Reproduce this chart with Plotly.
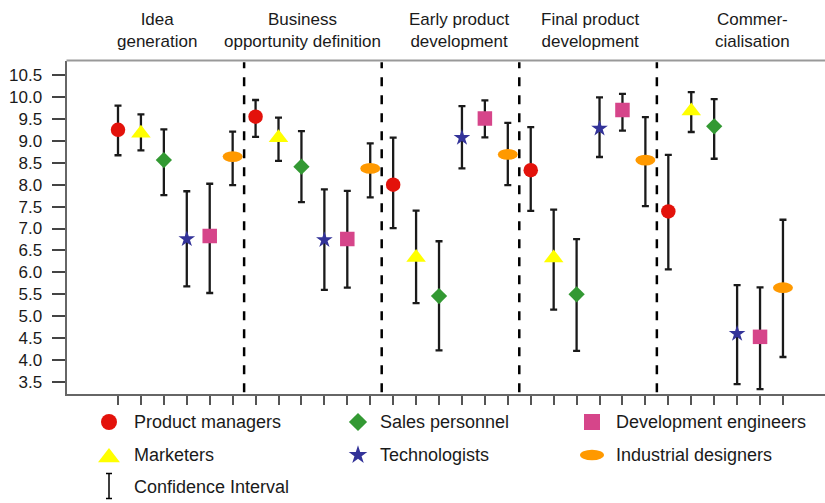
import plotly.graph_objects as go

# ---------------- data ----------------
stages = ["Idea<br>generation", "Business<br>opportunity definition",
          "Early product<br>development", "Final product<br>development",
          "Commer-<br>cialisation"]
roles = ["Product managers", "Marketers", "Sales personnel",
         "Technologists", "Development engineers", "Industrial designers"]

pm_mean = [9.25, 9.55, 8.00, 8.33, 7.39]
pm_up = [9.80, 9.93, 9.07, 9.31, 8.68]
pm_low = [8.67, 9.09, 7.01, 7.40, 6.07]

mk_mean = [9.17, 9.07, 6.34, 6.33, 9.68]
mk_up = [9.60, 9.53, 7.41, 7.43, 10.11]
mk_low = [8.78, 8.54, 5.30, 5.15, 9.20]

sp_mean = [8.56, 8.41, 5.46, 5.50, 9.33]
sp_up = [9.26, 9.22, 6.71, 6.76, 9.95]
sp_low = [7.76, 7.60, 4.22, 4.21, 8.59]

te_mean = [6.76, 6.74, 9.07, 9.28, 4.60]
te_up = [7.85, 7.89, 9.79, 9.99, 5.71]
te_low = [5.68, 5.60, 8.37, 8.63, 3.45]

de_mean = [6.83, 6.76, 9.51, 9.70, 4.53]
de_up = [8.02, 7.86, 9.92, 10.07, 5.66]
de_low = [5.53, 5.65, 9.08, 9.23, 3.34]

id_mean = [8.64, 8.37, 8.69, 8.56, 5.65]
id_up = [9.21, 8.94, 9.41, 9.54, 7.20]
id_low = [7.99, 7.71, 7.99, 7.51, 4.07]

y_ticks = [3.5, 4.0, 4.5, 5.0, 5.5, 6.0, 6.5, 7.0, 7.5, 8.0, 8.5, 9.0, 9.5, 10.0, 10.5]

means = [pm_mean, mk_mean, sp_mean, te_mean, de_mean, id_mean]
ups = [pm_up, mk_up, sp_up, te_up, de_up, id_up]
lows = [pm_low, mk_low, sp_low, te_low, de_low, id_low]

# ---------------- styles ----------------
W, H = 825, 503
FONT = "Liberation Sans, Arial, sans-serif"
TXT = "#1a1a1a"
styles = [
    dict(symbol="circle", size=14.5, color="#E3120B", lsize=16),
    dict(symbol="triangle-up", size=17, color="#FFFF00", lsize=19),
    dict(symbol="diamond", size=12.5, color="#339933", lsize=14),
    dict(symbol="star", size=12.5, color="#333399", lsize=14),
    dict(symbol="square", size=14.5, color="#D6458A", lsize=16),
    dict(symbol="ellipse", size=0, color="#FF9900", lsize=0),
]
ELL_W, ELL_H = 10, 5.4      # chart ellipse half sizes (px)
LELL_W, LELL_H = 12, 5.2    # legend ellipse half sizes (px)

n_roles = len(roles)
n_stages = len(stages)

# pixel geometry of the plot area
px_left, px_right = 66.5, 825
px_top, px_bottom = 60.5, 394
x0_px, dx_px = 118.0, 22.93
y_ref_px, dy_px = 75.0, 43.86   # pixel of 10.5 and px per unit

x_range = [(px_left - x0_px) / dx_px, (px_right - x0_px) / dx_px]
y_range = [10.5 - (px_bottom - y_ref_px) / dy_px, 10.5 + (y_ref_px - px_top) / dy_px]

fig = go.Figure()
shapes = []

for k, role in enumerate(roles):
    xs = [s * n_roles + k for s in range(n_stages)]
    plus = [u - m for u, m in zip(ups[k], means[k])]
    minus = [m - l for m, l in zip(means[k], lows[k])]
    st = styles[k]
    ellipse = st["symbol"] == "ellipse"
    fig.add_trace(go.Scatter(
        x=xs, y=means[k], mode="markers", name=role,
        marker=dict(symbol="circle" if ellipse else st["symbol"],
                    size=st["size"] if not ellipse else 1,
                    color="rgba(0,0,0,0)" if ellipse else st["color"],
                    line=dict(width=0)),
        error_y=dict(type="data", symmetric=False, array=plus, arrayminus=minus,
                     color="#1a1a1a", thickness=2.3, width=3.5),
        showlegend=False, hoverinfo="skip", xaxis="x", yaxis="y"))
    if ellipse:
        for xv, yv in zip(xs, means[k]):
            shapes.append(dict(type="circle", xref="x", yref="y",
                               xsizemode="pixel", ysizemode="pixel",
                               xanchor=xv, yanchor=yv,
                               x0=-ELL_W, x1=ELL_W, y0=-ELL_H, y1=ELL_H,
                               fillcolor=st["color"], line=dict(width=0),
                               layer="above"))

# dashed separators between stages
for s in range(1, n_stages):
    shapes.append(dict(type="line", xref="x", yref="y domain",
                       x0=s * n_roles - 0.5, x1=s * n_roles - 0.5, y0=0.005, y1=0.995,
                       line=dict(color="black", width=2.5, dash="dash")))

# top frame line
shapes.append(dict(type="line", xref="x domain", yref="y domain",
                   x0=0, x1=1, y0=1, y1=1, line=dict(color="#999999", width=1.8)))

# ---------------- headers ----------------
header_px = [157, 302, 459, 590, 752]
annotations = []
for txt, hx in zip(stages, header_px):
    annotations.append(dict(text=txt, xref="x2", yref="y2", x=hx, y=30,
                            xanchor="center", yanchor="middle", showarrow=False,
                            font=dict(family=FONT, size=17, color=TXT)))

# ---------------- legend (manual, pixel axes) ----------------
leg_cols_marker = [109, 358, 592]
leg_cols_text = [132, 378, 614]
leg_rows = [422, 455, 487]
leg_layout = [(0, 0), (1, 0), (0, 1), (1, 1), (0, 2), (1, 2)]  # (row, col) per role

for k, role in enumerate(roles):
    r, c = leg_layout[k]
    st = styles[k]
    mx, my = leg_cols_marker[c], leg_rows[r]
    if st["symbol"] == "ellipse":
        shapes.append(dict(type="circle", xref="x2", yref="y2",
                           xsizemode="pixel", ysizemode="pixel",
                           xanchor=mx, yanchor=my,
                           x0=-LELL_W, x1=LELL_W, y0=-LELL_H, y1=LELL_H,
                           fillcolor=st["color"], line=dict(width=0)))
    else:
        yoff = 2.5 if st["symbol"] == "triangle-up" else 0
        fig.add_trace(go.Scatter(x=[mx], y=[my + yoff], mode="markers",
                                 marker=dict(symbol=st["symbol"], size=st["lsize"],
                                             color=st["color"], line=dict(width=0)),
                                 showlegend=False, hoverinfo="skip",
                                 xaxis="x2", yaxis="y2"))
    annotations.append(dict(text=role, xref="x2", yref="y2",
                            x=leg_cols_text[c], y=my, xanchor="left", yanchor="middle",
                            showarrow=False, font=dict(family=FONT, size=18, color=TXT)))

# confidence interval key
fig.add_trace(go.Scatter(x=[leg_cols_marker[0]], y=[486], mode="markers",
                         marker=dict(size=1, color="rgba(0,0,0,0)"),
                         error_y=dict(type="constant", value=12.5, color="black",
                                      thickness=1.5, width=3),
                         showlegend=False, hoverinfo="skip", xaxis="x2", yaxis="y2"))
annotations.append(dict(text="Confidence Interval", xref="x2", yref="y2",
                        x=leg_cols_text[0], y=leg_rows[2], xanchor="left", yanchor="middle",
                        showarrow=False, font=dict(family=FONT, size=18, color=TXT)))

fig.update_layout(
    width=W, height=H,
    margin=dict(l=0, r=0, t=0, b=0, autoexpand=False),
    paper_bgcolor="white", plot_bgcolor="rgba(0,0,0,0)",
    showlegend=False,
    font=dict(family=FONT, color=TXT),
    xaxis=dict(domain=[px_left / W, 1], range=x_range,
               tickvals=list(range(n_roles * n_stages)), showticklabels=False,
               ticks="outside", ticklen=9, tickwidth=2, tickcolor="#555555",
               showline=True, linecolor="#666666", linewidth=2,
               showgrid=False, zeroline=False, fixedrange=True),
    yaxis=dict(domain=[1 - px_bottom / H, 1 - px_top / H], range=y_range,
               tickvals=y_ticks, tickformat=".1f",
               ticks="outside", ticklen=13, tickwidth=2, tickcolor="#444444",
               ticklabelstandoff=6,
               tickfont=dict(family=FONT, size=17, color=TXT),
               showline=True, linecolor="#666666", linewidth=2,
               showgrid=False, zeroline=False, fixedrange=True),
    xaxis2=dict(domain=[0, 1], range=[0, W], visible=False, anchor="y2", fixedrange=True),
    yaxis2=dict(domain=[0, 1], range=[H, 0], visible=False, anchor="x2", fixedrange=True),
    shapes=shapes,
    annotations=annotations,
)

fig.write_html("out.html", config={"displayModeBar": False},
               post_script="document.body.style.margin='0';document.body.style.padding='0';document.body.style.overflow='hidden';")
